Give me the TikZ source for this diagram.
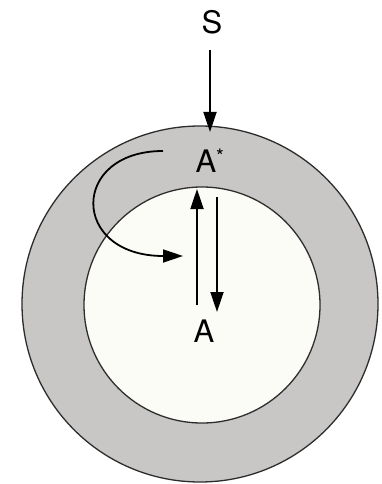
\documentclass[tikz,border=0pt]{standalone}
\usepackage{fontspec}
\setmainfont{TeX Gyre Heros}
\usetikzlibrary{arrows.meta}
\definecolor{ringgray}{RGB}{201,198,198}
\definecolor{innerfill}{RGB}{252,252,247}
\definecolor{edge}{RGB}{45,45,45}
\tikzset{
  lbl/.style={inner sep=0pt, font=\fontsize{31}{36}\selectfont},
  arr/.style={line width=1.8pt, -{Triangle[length=20pt,width=13pt]}},
  ringline/.style={draw=edge, line width=1.3pt}
}
\begin{document}
\begin{tikzpicture}[x=1pt,y=-1pt]
\useasboundingbox (0,0) rectangle (381,484);
\fill[white] (0,0) rectangle (381,484);
\filldraw[ringline, fill=ringgray] (200,304) circle[radius=178pt];
\filldraw[ringline, fill=innerfill] (202,305) circle[radius=118pt];
\node[lbl] (S) at (212,22) {S};
\node[lbl, anchor=center] (Astar) at (210,161) {A\textsuperscript{\fontsize{20}{20}\selectfont *}};
\node[lbl] (A) at (204,331) {A};
\coordinate (sstart) at (210,50);
\coordinate (stop) at (210,132);
\coordinate (upstart) at (197,305);
\coordinate (uptip) at (197,189);
\coordinate (downstart) at (217,197);
\coordinate (downtip) at (217,312);
\coordinate (cstart) at (163,151);
\coordinate (ctip) at (183,256);
\draw[arr] (sstart) -- (stop);
\draw[arr] (upstart) -- (uptip);
\draw[arr] (downstart) -- (downtip);
\draw[arr] (cstart) .. controls (70,151) and (70,256) .. (ctip);
\end{tikzpicture}
\end{document}
